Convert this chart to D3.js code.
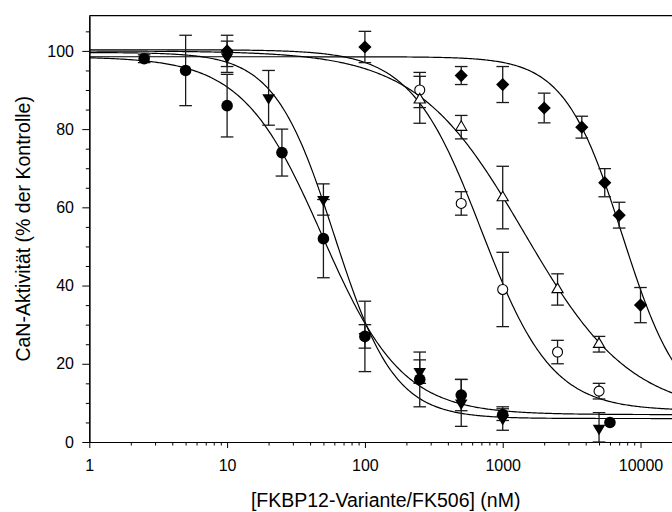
<!DOCTYPE html>
<html>
<head>
<meta charset="utf-8">
<script src="https://cdn.jsdelivr.net/npm/d3@7"></script>
<style>
  body { margin: 0; background: #fff; }
  svg { display: block; }
  text { font-family: "Liberation Sans", Arial, sans-serif; fill: #000; }
</style>
</head>
<body>
<svg id="chart" width="672" height="512"></svg>
<script>
// Calcineurin activity vs. concentration of FKBP12 variant / FK506 complexes

// Filled circles
const concCircle = [2.5, 5, 10, 25, 50, 100, 250, 500, 1000, 6000];
const actCircle  = [98, 95, 86, 74, 52, 27, 16, 12, 7, 5];
const errCircle  = [1, 9, 8, 6, 10, 9, 7, 4, 1.5, 0];

// Filled down-triangles
const concTriDown = [10, 20, 50, 100, 250, 500, 1000, 5000];
const actTriDown  = [98.5, 88, 62, 27, 18, 10, 6, 3.5];
const errTriDown  = [4, 7, 4, 3, 3, 6, 3, 4];

// Open circles
const concOpenCircle = [250, 500, 1000, 2500, 5000];
const actOpenCircle  = [90, 61, 39, 23, 13];
const errOpenCircle  = [4.5, 3, 9.5, 3, 2];

// Open up-triangles
const concOpenTri = [250, 500, 1000, 2500, 5000];
const actOpenTri  = [87.5, 80.5, 62.5, 39, 25];
const errOpenTri  = [6, 3, 8, 4, 2];

// Filled diamonds
const concDiamond = [10, 100, 500, 1000, 2000, 3750, 5500, 7000, 10000];
const actDiamond  = [100, 101, 93.7, 91.4, 85.4, 80.5, 66.3, 58, 35];
const errDiamond  = [4, 4, 2.3, 4.6, 3.8, 2.8, 3.6, 3.3, 4.5];

// Four-parameter logistic fits, one entry per series (order as above)
const fitTop    = [98.5, 99.6, 100.3, 100, 98.5];
const fitBottom = [7, 6, 8, 7, 7];
const fitIC50   = [49, 60, 700, 1432, 7400];
const fitHill   = [1.5, 2.0, 1.7, 1.115, 2.064];

// Axis ticks
const xMajorTicks = [1, 10, 100, 1000, 10000];
const yMajorTicks = [0, 20, 40, 60, 80, 100];

const xLabel = "[FKBP12-Variante/FK506] (nM)";
const yLabel = "CaN-Aktivität (% der Kontrolle)";

const svg = d3.select("#chart");
const plotL = 89.3, plotR = 682, plotT = 15.7, plotB = 442;

const x = d3.scaleLog().domain([1, 20000]).range([plotL, plotR]);
const y = d3.scaleLinear().domain([0, 109]).range([plotB, plotT]);

// minor ticks
const xMinorTicks = [];
[1, 10, 100, 1000, 10000].forEach(d => {
  for (let k = 2; k <= 9; k++) if (d * k <= 20000) xMinorTicks.push(d * k);
});
const yMinorTicks = d3.range(5, 110, 5).filter(v => !yMajorTicks.includes(v));

const ink = "#000";

// frame line on top
svg.append("line")
  .attr("x1", plotL).attr("x2", plotR)
  .attr("y1", plotT).attr("y2", plotT)
  .attr("stroke", ink).attr("stroke-width", 1.2);

// Y axis
svg.append("g").attr("transform", `translate(${plotL},0)`)
  .call(d3.axisLeft(y).tickValues(yMajorTicks).tickSize(7).tickSizeOuter(0).tickPadding(8.3));
svg.append("g").attr("transform", `translate(${plotL},0)`)
  .call(d3.axisLeft(y).tickValues(yMinorTicks).tickSize(3.5).tickSizeOuter(0).tickFormat(""));

// X axis
svg.append("g").attr("transform", `translate(0,${plotB})`)
  .call(d3.axisBottom(x).tickValues(xMajorTicks).tickSize(6).tickSizeOuter(0).tickPadding(12).tickFormat(d3.format("d")));
svg.append("g").attr("transform", `translate(0,${plotB})`)
  .call(d3.axisBottom(x).tickValues(xMinorTicks).tickSize(3.5).tickSizeOuter(0).tickFormat(""));

svg.selectAll(".domain").attr("stroke", ink).attr("stroke-width", 1.2);
svg.selectAll(".tick line").attr("stroke", ink).attr("stroke-width", 1);
svg.selectAll(".tick text").attr("font-size", 16).attr("fill", ink)
  .style("font-family", '"Liberation Sans", Arial, sans-serif');

// axis titles
svg.append("text")
  .attr("x", (plotL + plotR) / 2).attr("y", 507)
  .attr("text-anchor", "middle").attr("font-size", 19.5)
  .text(xLabel);
svg.append("text")
  .attr("transform", `translate(29.5,${(plotT + plotB) / 2}) rotate(-90)`)
  .attr("text-anchor", "middle").attr("font-size", 19.5)
  .text(yLabel);

// clip to the plot area
svg.append("defs").append("clipPath").attr("id", "plot")
  .append("rect").attr("x", plotL).attr("y", plotT)
  .attr("width", plotR - plotL).attr("height", plotB - plotT);

// fitted curves
const logistic = i => c => fitBottom[i] + (fitTop[i] - fitBottom[i]) / (1 + Math.pow(c / fitIC50[i], fitHill[i]));
const samples = d3.range(0, 4.302, 0.01).map(e => Math.pow(10, e));
const line = d3.line().x(d => x(d[0])).y(d => y(d[1]));
const curves = svg.append("g").attr("clip-path", "url(#plot)");
fitTop.forEach((_, i) => {
  const f = logistic(i);
  curves.append("path")
    .attr("d", line(samples.map(c => [c, f(c)])))
    .attr("fill", "none").attr("stroke", ink).attr("stroke-width", 1.2);
});

const series = [
  { conc: concCircle,     act: actCircle,     err: errCircle,     shape: "circle" },
  { conc: concTriDown,    act: actTriDown,    err: errTriDown,    shape: "tridown" },
  { conc: concOpenCircle, act: actOpenCircle, err: errOpenCircle, shape: "opencircle" },
  { conc: concOpenTri,    act: actOpenTri,    err: errOpenTri,    shape: "opentri" },
  { conc: concDiamond,    act: actDiamond,    err: errDiamond,    shape: "diamond" }
];

// error bars
const bars = svg.append("g").attr("stroke", "#1a1a1a").attr("stroke-width", 1.3);
const capW = 6.3;
series.forEach(s => {
  s.conc.forEach((c, j) => {
    if (!s.err[j]) return;
    const cx = x(c), y1 = y(s.act[j] + s.err[j]), y0 = y(Math.max(s.act[j] - s.err[j], 0));
    bars.append("line").attr("x1", cx).attr("x2", cx).attr("y1", y1).attr("y2", y0);
    bars.append("line").attr("x1", cx - capW).attr("x2", cx + capW).attr("y1", y1).attr("y2", y1);
    bars.append("line").attr("x1", cx - capW).attr("x2", cx + capW).attr("y1", y0).attr("y2", y0);
  });
});

// markers
const markers = svg.append("g");
function drawMarker(shape, cx, cy) {
  if (shape === "circle") {
    markers.append("circle").attr("cx", cx).attr("cy", cy).attr("r", 5.8).attr("fill", ink);
  } else if (shape === "opencircle") {
    markers.append("circle").attr("cx", cx).attr("cy", cy).attr("r", 5)
      .attr("fill", "#fff").attr("stroke", ink).attr("stroke-width", 1.1);
  } else if (shape === "tridown") {
    const w = 6.3, h = 10.5;
    markers.append("path")
      .attr("d", `M${cx - w},${cy - h / 3}L${cx + w},${cy - h / 3}L${cx},${cy + 2 * h / 3}Z`)
      .attr("fill", ink);
  } else if (shape === "opentri") {
    const w = 5.6, h = 9.5;
    markers.append("path")
      .attr("d", `M${cx - w},${cy + h / 3}L${cx + w},${cy + h / 3}L${cx},${cy - 2 * h / 3}Z`)
      .attr("fill", "#fff").attr("stroke", ink).attr("stroke-width", 1.1);
  } else if (shape === "diamond") {
    const r = 6.6;
    markers.append("path")
      .attr("d", `M${cx},${cy - r}L${cx + r},${cy}L${cx},${cy + r}L${cx - r},${cy}Z`)
      .attr("fill", ink);
  }
}
series.forEach(s => s.conc.forEach((c, j) => drawMarker(s.shape, x(c), y(s.act[j]))));
</script>
</body>
</html>
